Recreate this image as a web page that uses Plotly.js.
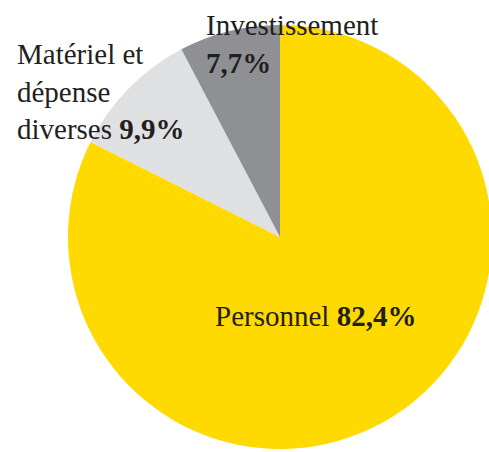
<!DOCTYPE html>
<html>
<head>
<meta charset="utf-8">
<script src="https://cdn.plot.ly/plotly-3.0.1.min.js"></script>
<style>
html, body { margin: 0; padding: 0; overflow: hidden; background: #fff; }
#chart { width: 500px; height: 452px; }
</style>
</head>
<body>
<div id="chart"></div>
<script>
const labels = ["Personnel", "Matériel et<br>dépense<br>diverses", "Investissement"];
const values = [82.4, 9.9, 7.7];
const colors = ["#FFDA00", "#DFE0E2", "#8F9094"];
// separator between label and percentage
const separators = [" ", " ", "<br>"];

const W = 500, H = 452;
function px(x) { return x / W; }
function py(y) { return 1 - y / H; }
function pct(v) { return v.toFixed(1).replace('.', ',') + '%'; }

// label placement (left x, centre y) in pixels
const labelPos = [[213, 316], [15, 92], [204, 44]];

const annotations = labels.map((lab, i) => ({
  xref: 'paper', yref: 'paper',
  x: px(labelPos[i][0]), y: py(labelPos[i][1]),
  xanchor: 'left', yanchor: 'middle', align: 'left',
  showarrow: false,
  text: lab + separators[i] + '<b>' + pct(values[i]) + '</b>',
  font: { family: 'Liberation Serif', size: 29, color: '#231F20' }
}));

const trace = {
  type: 'pie',
  labels: labels.map(l => l.replace(/<br>/g, ' ')),
  values: values,
  sort: false,
  direction: 'clockwise',
  rotation: 0,
  marker: { colors: colors, line: { width: 0 } },
  textinfo: 'none',
  hoverinfo: 'none',
  domain: { x: [px(68), px(492)], y: [py(449), py(25)] }
};

Plotly.newPlot('chart', [trace], {
  width: W, height: H,
  margin: { l: 0, r: 0, t: 0, b: 0 },
  paper_bgcolor: '#ffffff',
  showlegend: false,
  annotations: annotations
}, { staticPlot: true });
</script>
</body>
</html>
